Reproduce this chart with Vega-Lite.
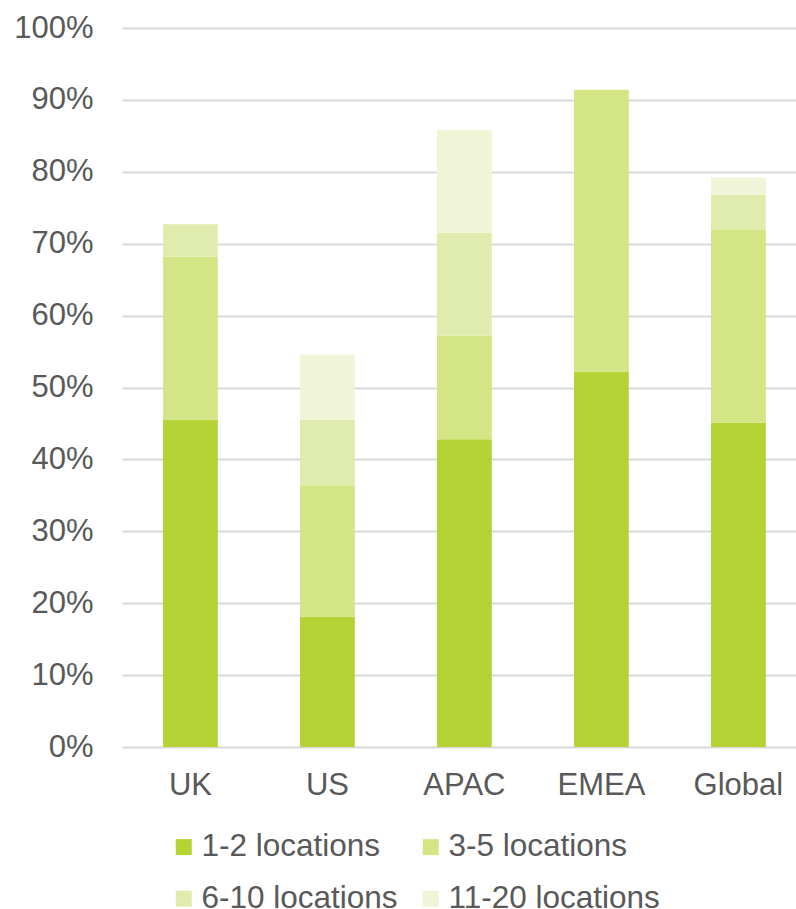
{
  "$schema": "https://vega.github.io/schema/vega-lite/v6.json",
  "autosize": {"type": "none"},
  "padding": {"left": 122, "top": 28, "right": 0, "bottom": 162},
  "width": 674,
  "height": 719,
  "background": "white",
  "config": {
    "view": {"stroke": null},
    "font": "Liberation Sans",
    "axis": {"labelFont": "Liberation Sans", "labelColor": "#595959", "labelFontSize": 31},
    "legend": {"labelFont": "Liberation Sans", "labelColor": "#595959", "labelFontSize": 31.5}
  },
  "data": {
    "values": [
      {"region": "UK", "group": "1-2 locations", "k": 1, "value": 0.455},
      {"region": "UK", "group": "3-5 locations", "k": 2, "value": 0.227},
      {"region": "UK", "group": "6-10 locations", "k": 3, "value": 0.045},
      {"region": "UK", "group": "11-20 locations", "k": 4, "value": 0},
      {"region": "US", "group": "1-2 locations", "k": 1, "value": 0.181},
      {"region": "US", "group": "3-5 locations", "k": 2, "value": 0.182},
      {"region": "US", "group": "6-10 locations", "k": 3, "value": 0.092},
      {"region": "US", "group": "11-20 locations", "k": 4, "value": 0.091},
      {"region": "APAC", "group": "1-2 locations", "k": 1, "value": 0.428},
      {"region": "APAC", "group": "3-5 locations", "k": 2, "value": 0.144},
      {"region": "APAC", "group": "6-10 locations", "k": 3, "value": 0.143},
      {"region": "APAC", "group": "11-20 locations", "k": 4, "value": 0.143},
      {"region": "EMEA", "group": "1-2 locations", "k": 1, "value": 0.522},
      {"region": "EMEA", "group": "3-5 locations", "k": 2, "value": 0.392},
      {"region": "EMEA", "group": "6-10 locations", "k": 3, "value": 0},
      {"region": "EMEA", "group": "11-20 locations", "k": 4, "value": 0},
      {"region": "Global", "group": "1-2 locations", "k": 1, "value": 0.451},
      {"region": "Global", "group": "3-5 locations", "k": 2, "value": 0.268},
      {"region": "Global", "group": "6-10 locations", "k": 3, "value": 0.049},
      {"region": "Global", "group": "11-20 locations", "k": 4, "value": 0.024}
    ]
  },
  "mark": {"type": "bar"},
  "encoding": {
    "x": {
      "field": "region",
      "type": "nominal",
      "sort": ["UK", "US", "APAC", "EMEA", "Global"],
      "scale": {"paddingInner": 0.6, "paddingOuter": 0.26, "align": 0.576},
      "axis": {"title": null, "labelAngle": 0, "domain": false, "ticks": false, "labelPadding": 23}
    },
    "y": {
      "field": "value",
      "type": "quantitative",
      "stack": "zero",
      "scale": {"domain": [0, 1], "nice": false},
      "axis": {"title": null, "format": ".0%", "values": [0, 0.1, 0.2, 0.3, 0.4, 0.5, 0.6, 0.7, 0.8, 0.9, 1], "domain": false, "ticks": false, "labelPadding": 29, "gridColor": "#d9d9d9", "gridWidth": 2}
    },
    "color": {
      "field": "group",
      "type": "nominal",
      "scale": {
        "domain": ["1-2 locations", "3-5 locations", "6-10 locations", "11-20 locations"],
        "range": ["#b5d334", "#d4e585", "#e0ebae", "#eff5d6"]
      },
      "legend": {
        "title": null,
        "orient": "none",
        "legendX": 46,
        "legendY": 803,
        "direction": "horizontal",
        "columns": 2,
        "symbolType": "square",
        "symbolSize": 256,
        "symbolStrokeWidth": 0,
        "labelOffset": 2,
        "columnPadding": 17,
        "rowPadding": 19,
        "padding": 0,
        "labelLimit": 400
      }
    },
    "order": {"field": "k", "type": "quantitative"}
  }
}
